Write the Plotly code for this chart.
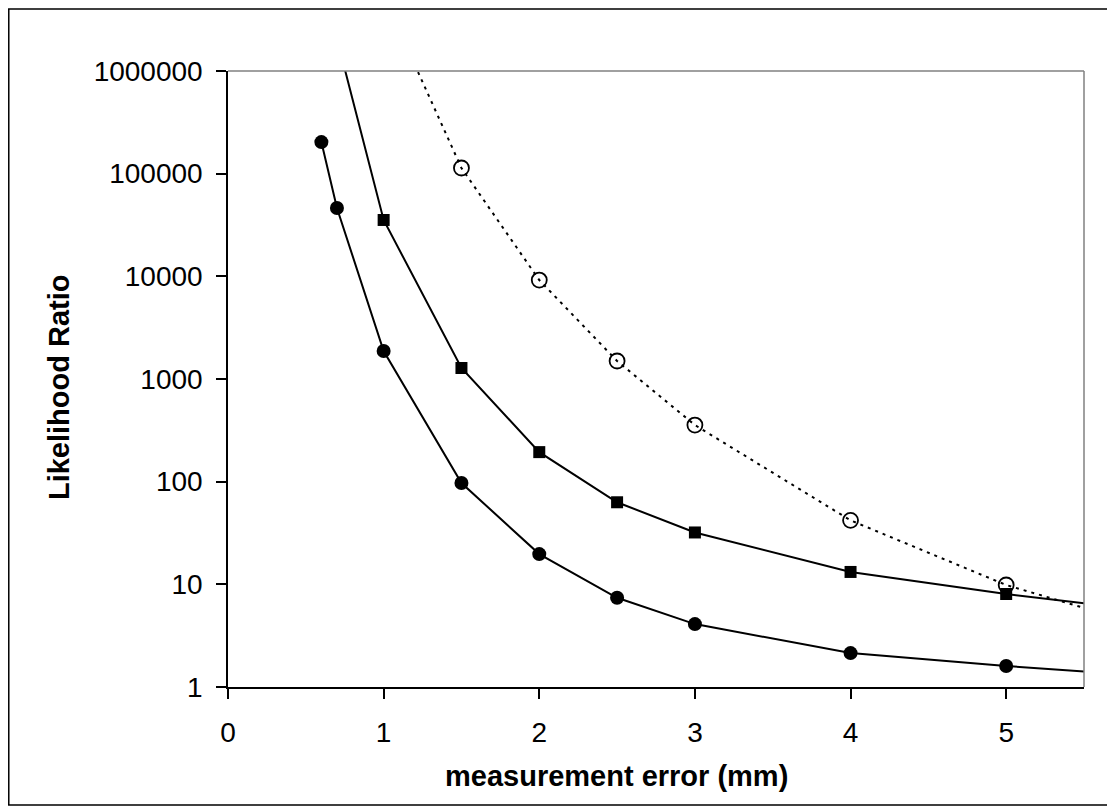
import plotly.graph_objects as go

# measured points (x in mm, likelihood ratio)
x_filled = [0.6, 0.7, 1.0, 1.5, 2.0, 2.5, 3.0, 4.0, 5.0]
y_filled = [203000, 46300, 1875, 97, 19.7, 7.4, 4.1, 2.14, 1.6]

x_square = [1.0, 1.5, 2.0, 2.5, 3.0, 4.0, 5.0]
y_square = [35400, 1280, 194, 63, 32, 13.2, 8.05]

x_open = [1.5, 2.0, 2.5, 3.0, 4.0, 5.0]
y_open = [113500, 9200, 1497, 356, 42, 9.85]

# curves through the points, extended past the data
x_filled_curve = x_filled + [5.55]
y_filled_curve = y_filled + [1.4]

x_square_curve = [0.74] + x_square + [5.55]
y_square_curve = [1200000] + y_square + [6.4]

x_open_curve = [1.2] + x_open + [5.55]
y_open_curve = [1150000] + y_open + [5.6]

y_ticks = [1, 10, 100, 1000, 10000, 100000, 1000000]
x_ticks = [0, 1, 2, 3, 4, 5]

FONT = "Liberation Sans, Arial, sans-serif"

fig = go.Figure()

# lines first so markers sit on top
fig.add_trace(go.Scatter(x=x_filled_curve, y=y_filled_curve, mode="lines",
                         line=dict(color="black", width=2)))
fig.add_trace(go.Scatter(x=x_square_curve, y=y_square_curve, mode="lines",
                         line=dict(color="black", width=2)))
fig.add_trace(go.Scatter(x=x_open_curve, y=y_open_curve, mode="lines",
                         line=dict(color="black", width=2, dash="3px,5px")))

fig.add_trace(go.Scatter(x=x_filled, y=y_filled, mode="markers",
                         marker=dict(symbol="circle", size=14, color="black")))
fig.add_trace(go.Scatter(x=x_square, y=y_square, mode="markers",
                         marker=dict(symbol="square", size=12, color="black")))
fig.add_trace(go.Scatter(x=x_open, y=y_open, mode="markers",
                         marker=dict(symbol="circle-open", size=15, color="black",
                                     line=dict(width=1.8, color="black"))))

# page body has an 8px margin, so the figure is sized to fit inside it
fig.update_layout(
    width=1107, height=803,
    margin=dict(l=220, r=31, t=63, b=124),
    paper_bgcolor="white", plot_bgcolor="white",
    showlegend=False,
    font=dict(family=FONT, size=28, color="black"),
    xaxis=dict(range=[0, 5.5], tickvals=x_ticks, ticktext=[str(v) for v in x_ticks],
               showgrid=False, zeroline=False, showline=True, linecolor="black", linewidth=1.5,
               ticks="outside", ticklen=10, tickwidth=1.5, tickcolor="black",
               ticklabelstandoff=10),
    yaxis=dict(type="log", range=[0, 6], tickvals=y_ticks, ticktext=[str(v) for v in y_ticks],
               showgrid=False, zeroline=False, showline=True, linecolor="black", linewidth=1.5,
               ticks="outside", ticklen=10, tickwidth=1.5, tickcolor="black",
               ticklabelstandoff=8),
    shapes=[
        # grey top and right edges of the plot area
        dict(type="line", xref="paper", yref="paper", x0=0, x1=1, y0=1, y1=1,
             line=dict(color="#808080", width=1.5)),
        dict(type="line", xref="paper", yref="paper", x0=1, x1=1, y0=0, y1=1,
             line=dict(color="#808080", width=1.5)),
        # outer chart border
        dict(type="rect", xref="paper", yref="paper",
             x0=-0.2561, x1=1.0292, y0=-0.1916, y1=1.1006,
             line=dict(color="black", width=1.5)),
    ],
    annotations=[
        dict(text="<b>measurement error (mm)</b>", xref="paper", yref="paper",
             x=0.4544, y=-0.1445, showarrow=False, xanchor="center", yanchor="middle",
             font=dict(family=FONT, size=29)),
        dict(text="<b>Likelihood Ratio</b>", xref="paper", yref="paper",
             x=-0.1974, y=0.487, showarrow=False, textangle=-90,
             xanchor="center", yanchor="middle",
             font=dict(family=FONT, size=29)),
    ],
)

fig.write_html("out.html")
